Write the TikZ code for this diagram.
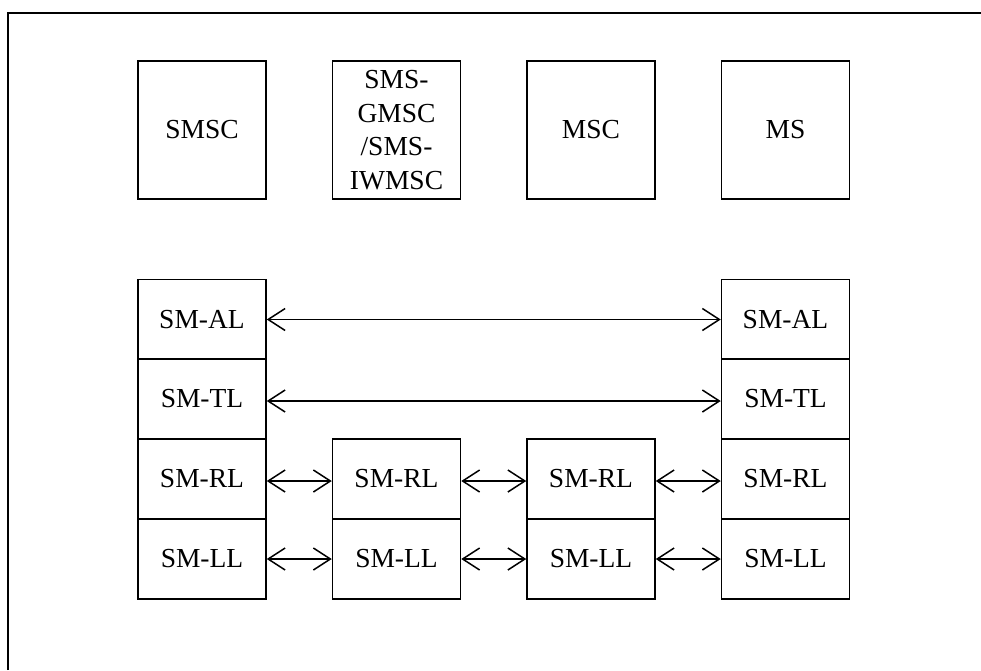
\documentclass[tikz,border=0pt]{standalone}
\usepackage{fontspec}
\setmainfont{Liberation Serif}
\usetikzlibrary{arrows.meta}
\begin{document}
\begin{tikzpicture}[x=1pt,y=-1pt,
  entity/.style={draw, line width=1.5pt, minimum width=128pt, minimum height=138pt,
    inner sep=0pt, align=center, font=\fontsize{27.5}{33.5}\selectfont},
  layer/.style={draw, line width=1.5pt, minimum width=128pt, minimum height=80pt,
    inner sep=0pt, font=\fontsize{27.5}{33}\selectfont},
  barb/.style={Straight Barb[length=17pt,width=22pt,line width=1.5pt]},
  peer/.style={line width=1.3pt, {Straight Barb[length=17pt,width=22pt,line width=1.5pt]}-{Straight Barb[length=17pt,width=22pt,line width=1.5pt]}}]
\useasboundingbox (0,0) rectangle (981,670);
\fill[white] (0,0) rectangle (981,670);
% outer frame
\draw[line width=1.6pt] (8,670) -- (8,13) -- (981,13);

% network entities
\node[entity] (smsc) at (202,130) {SMSC};
\node[entity] (gmsc) at (396.5,130) {SMS-\\GMSC\\/SMS-\\IWMSC};
\node[entity] (msc)  at (591,130) {MSC};
\node[entity] (ms)   at (785.5,130) {MS};

% protocol stack at the SMSC
\node[layer] (al1) at (202,319.5) {SM-AL};
\node[layer] (tl1) at (202,399) {SM-TL};
\node[layer] (rl1) at (202,479) {SM-RL};
\node[layer] (ll1) at (202,559) {SM-LL};
% relay stacks
\node[layer] (rl2) at (396.5,479) {SM-RL};
\node[layer] (ll2) at (396.5,559) {SM-LL};
\node[layer] (rl3) at (591,479) {SM-RL};
\node[layer] (ll3) at (591,559) {SM-LL};
% protocol stack at the MS
\node[layer] (al4) at (785.5,319.5) {SM-AL};
\node[layer] (tl4) at (785.5,399) {SM-TL};
\node[layer] (rl4) at (785.5,479) {SM-RL};
\node[layer] (ll4) at (785.5,559) {SM-LL};

% peer-to-peer relations
\draw[peer] (al1.east) -- (al4.west);
\draw[peer] ([yshift=-2pt]tl1.east) -- ([yshift=-2pt]tl4.west);
\draw[peer] ([yshift=-2pt]rl1.east) -- ([yshift=-2pt]rl2.west);
\draw[peer] ([yshift=-2pt]rl2.east) -- ([yshift=-2pt]rl3.west);
\draw[peer] ([yshift=-2pt]rl3.east) -- ([yshift=-2pt]rl4.west);
\draw[peer] (ll1.east) -- (ll2.west);
\draw[peer] (ll2.east) -- (ll3.west);
\draw[peer] (ll3.east) -- (ll4.west);
\end{tikzpicture}
\end{document}
